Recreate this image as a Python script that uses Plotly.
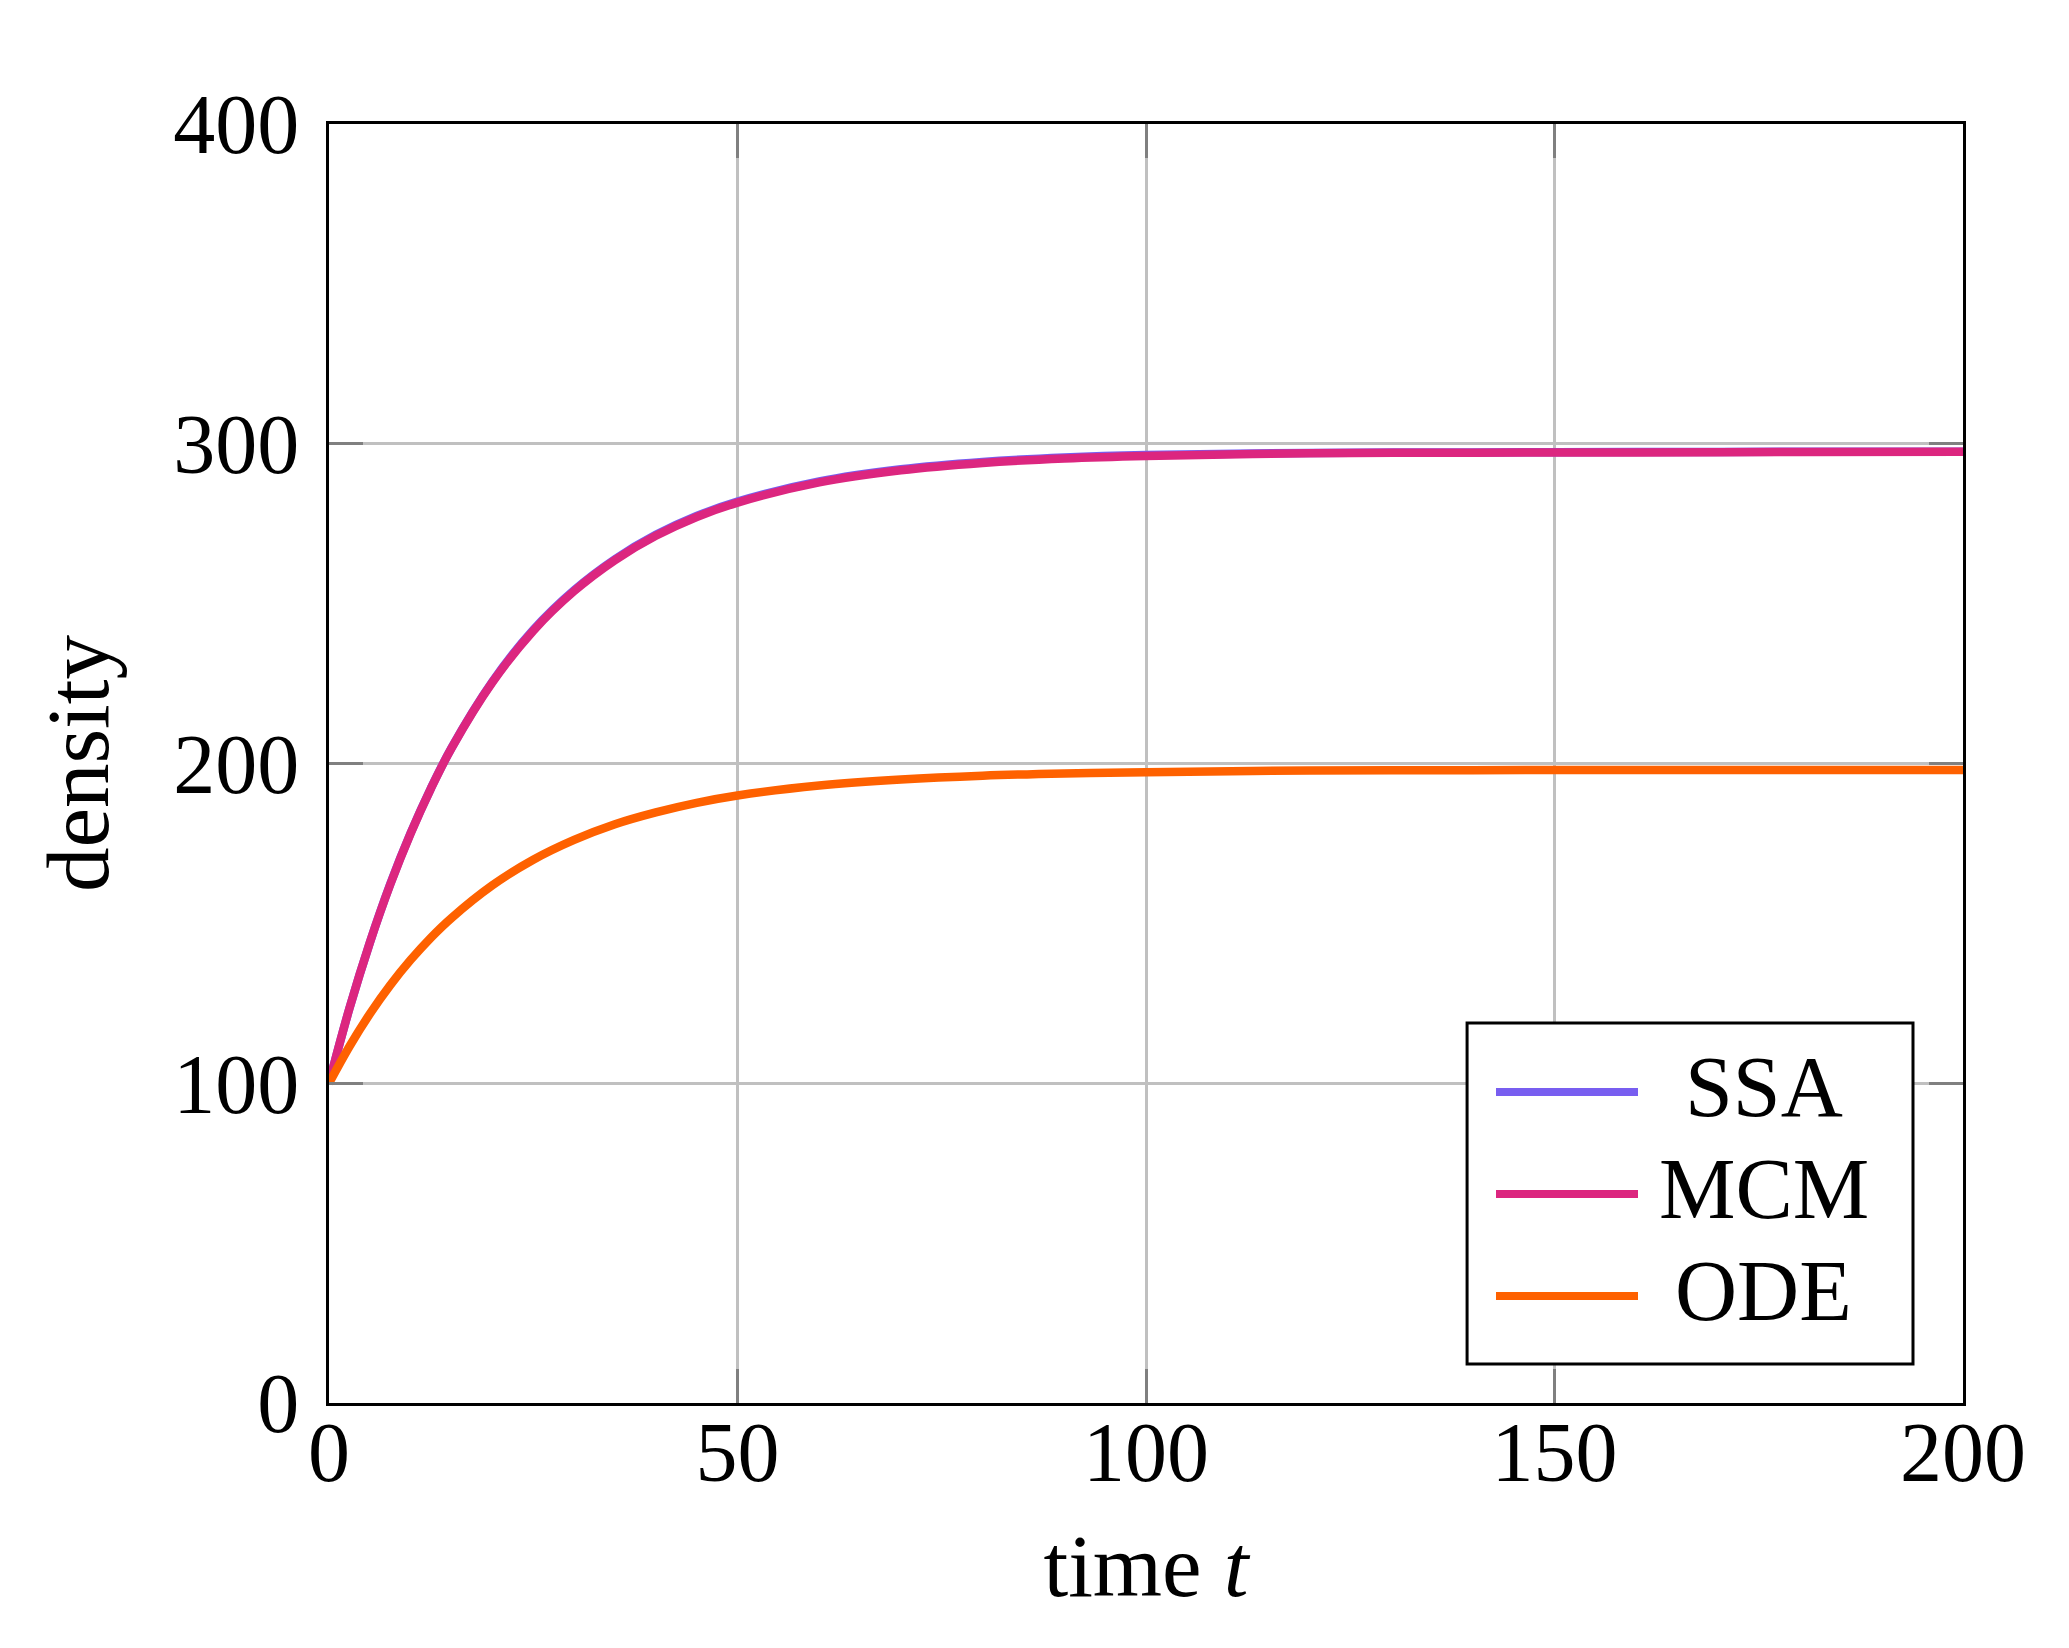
import plotly.graph_objects as go

# time points
t = [0, 2.5, 5, 7.5, 10, 12.5, 15, 20, 25, 30, 35, 40, 45, 50,
     60, 70, 80, 90, 100, 120, 140, 160, 180, 200]

# mean densities (estimated from the plot)
ssa = [100, 123.4, 144.0, 162.3, 178.3, 192.4, 204.9, 225.6, 241.8, 254.2,
       263.9, 271.5, 277.4, 281.9, 288.2, 292.0, 294.3, 295.7, 296.5, 297.1,
       297.3, 297.4, 297.5, 297.5]
mcm = [100, 123.4, 144.0, 162.2, 178.2, 192.3, 204.8, 225.4, 241.5, 253.9,
       263.6, 271.2, 277.1, 281.6, 287.9, 291.7, 294.0, 295.4, 296.2, 297.0,
       297.2, 297.3, 297.4, 297.5]
ode = [100, 111.5, 121.7, 130.7, 138.6, 145.6, 151.7, 161.9, 169.9, 176.1,
       181.0, 184.7, 187.7, 190.0, 193.1, 195.0, 196.2, 196.9, 197.3, 197.8,
       197.9, 198.0, 198.0, 198.0]

names = ['SSA', 'MCM', 'ODE']
colors = ['#785EF0', '#DC267F', '#FE6100']

x_ticks = [0, 50, 100, 150, 200]
y_ticks = [0, 100, 200, 300, 400]

FONT = 'Liberation Serif'
FS = 84
FS_TITLE = 89

fig = go.Figure()
for name, ys, col in zip(names, [ssa, mcm, ode], colors):
    fig.add_trace(go.Scatter(x=t, y=ys, name=name, mode='lines',
                             line=dict(color=col, width=8.5, shape='spline'),
                             showlegend=False))

# legend drawn by hand so the line samples are as long as in the original
lx0, lx1, ly0, ly1 = 0.6965, 0.9694, 0.0305, 0.2971
fig.add_shape(type='rect', xref='paper', yref='paper', x0=lx0, x1=lx1, y0=ly0, y1=ly1,
              line=dict(color='black', width=3), fillcolor='white', layer='above')
for i, (name, col) in enumerate(zip(names, colors)):
    yy = 0.2432 - i * 0.0798
    fig.add_shape(type='line', xref='paper', yref='paper', x0=0.7142, x1=0.8011,
                  y0=yy, y1=yy, line=dict(color=col, width=8), layer='above')
    fig.add_annotation(x=0.8782, y=yy + 0.004, xref='paper', yref='paper', text=name,
                       showarrow=False, xanchor='center', yanchor='middle',
                       font=dict(family=FONT, size=FS + 2, color='black'))

axis_style = dict(showline=True, linecolor='black', linewidth=3, mirror='allticks',
                  ticks='inside', ticklen=34, tickwidth=2.5, tickcolor='#808080',
                  showgrid=True, gridcolor='#c0c0c0', gridwidth=2.5, zeroline=False,
                  tickfont=dict(family=FONT, size=FS, color='black'))

fig.update_xaxes(range=[0, 200], tickvals=x_ticks, ticklabelstandoff=-26,
                 title=dict(text='time <i>t</i>', standoff=36,
                            font=dict(family=FONT, size=FS_TITLE, color='black')),
                 **axis_style)
fig.update_yaxes(range=[0, 400], tickvals=y_ticks, ticklabelstandoff=10,
                 title=dict(text='density', standoff=36,
                            font=dict(family=FONT, size=FS_TITLE, color='black')),
                 **axis_style)

# page body keeps its 8px margin, so the figure is a little smaller than the window
fig.update_layout(width=2053, height=1632, paper_bgcolor='white', plot_bgcolor='white',
                  margin=dict(l=321, r=98, t=116, b=237), showlegend=False)

fig.write_html('out.html')
